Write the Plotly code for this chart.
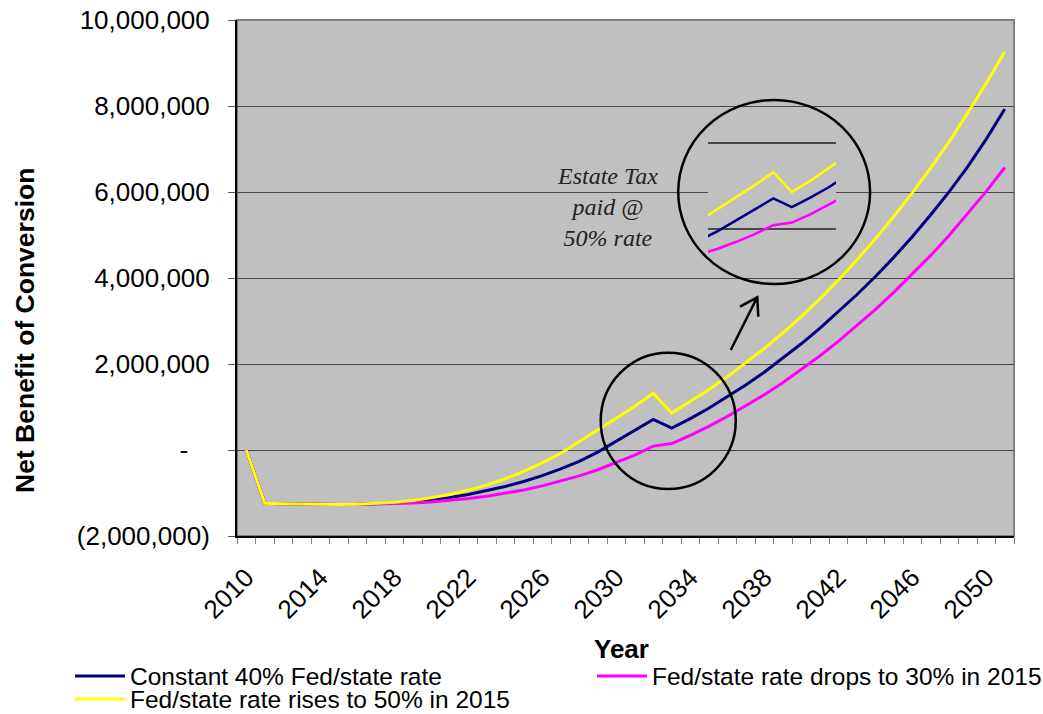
import numpy as np
import plotly.graph_objects as go

years = list(range(2010, 2052))

# values in millions of dollars
constant_40 = [0, -1.24, -1.25, -1.26, -1.27, -1.269, -1.264, -1.252, -1.231, -1.201,
               -1.159, -1.103, -1.035, -0.951, -0.849, -0.732, -0.595, -0.439, -0.262, -0.05,
               0.20, 0.45, 0.71, 0.51, 0.73, 0.97, 1.23, 1.51, 1.81, 2.13,
               2.47, 2.83, 3.21, 3.61, 4.03, 4.48, 4.96, 5.47, 6.01, 6.59,
               7.23, 7.93]
drops_30 = [0, -1.24, -1.25, -1.26, -1.27, -1.27, -1.267, -1.261, -1.250, -1.232,
            -1.208, -1.174, -1.130, -1.076, -1.009, -0.929, -0.835, -0.726, -0.601, -0.459,
            -0.297, -0.118, 0.09, 0.15, 0.34, 0.55, 0.78, 1.025, 1.285, 1.565,
            1.865, 2.185, 2.525, 2.885, 3.265, 3.665, 4.085, 4.525, 4.995, 5.495,
            6.015, 6.57]
rises_50 = [0, -1.24, -1.25, -1.26, -1.27, -1.269, -1.261, -1.245, -1.215, -1.172,
            -1.112, -1.034, -0.935, -0.813, -0.668, -0.498, -0.30, -0.075, 0.19, 0.46,
            0.74, 1.02, 1.32, 0.86, 1.12, 1.40, 1.70, 2.02, 2.36, 2.72,
            3.10, 3.51, 3.95, 4.42, 4.91, 5.43, 5.98, 6.56, 7.17, 7.84,
            8.53, 9.26]

series_names = ["Constant 40% Fed/state rate",
                "Fed/state rate drops to 30% in 2015",
                "Fed/state rate rises to 50% in 2015"]
series_values = [constant_40, drops_30, rises_50]
series_colors = ["#000080", "#FF00FF", "#FFFF00"]
series_legend = ["legend", "legend3", "legend2"]

y_tickvals = [-2e6, 0, 2e6, 4e6, 6e6, 8e6, 10e6]
y_ticktext = ["(2,000,000)", "-\u00a0\u00a0\u00a0", "2,000,000", "4,000,000",
              "6,000,000", "8,000,000", "10,000,000"]
x_tickvals = list(range(2010, 2051, 4))

FONT = "Liberation Sans, Arial, sans-serif"
W, H = 1043, 714
L, R, T, B = 237, 29, 20, 178
PW, PH = W - L - R, H - T - B


def px_x(px):
    return (px - L) / PW


def px_y(py):
    return (H - B - py) / PH


fig = go.Figure()
for name, vals, col, lg in zip(series_names, series_values, series_colors, series_legend):
    fig.add_trace(go.Scatter(x=years, y=np.array(vals) * 1e6, mode="lines", name=name,
                             line=dict(color=col, width=3), legend=lg,
                             xaxis="x", yaxis="y"))
# inset (magnified copy of circled region)
for name, vals, col in zip(series_names, series_values, series_colors):
    fig.add_trace(go.Scatter(x=years, y=np.array(vals) * 1e6, mode="lines", name=name,
                             line=dict(color=col, width=2.5), showlegend=False,
                             xaxis="x2", yaxis="y2"))

legend_common = dict(orientation="h", xanchor="left", yanchor="middle", itemwidth=50,
                     font=dict(size=24.5), bgcolor="rgba(0,0,0,0)")

fig.update_layout(
    width=W, height=H,
    margin=dict(l=L, r=R, t=T, b=B, autoexpand=False),
    paper_bgcolor="white", plot_bgcolor="#C0C0C0",
    font=dict(family=FONT, color="black", size=26),
    xaxis=dict(range=[2009.5, 2051.5], tickvals=x_tickvals,
               ticktext=[str(v) for v in x_tickvals], tickangle=-45,
               ticks="", showgrid=False, zeroline=False,
               showline=True, linecolor="black", linewidth=2,
               ticklabelstandoff=14,
               tickfont=dict(size=26),
               minor=dict(ticks="outside", tick0=2009.5, dtick=1, ticklen=6,
                          tickcolor="#808080", showgrid=False)),
    yaxis=dict(range=[-2e6, 10e6], tickvals=y_tickvals, ticktext=y_ticktext,
               showgrid=True, gridcolor="#474747", gridwidth=1, zeroline=False,
               ticks="outside", ticklen=7, tickcolor="#555555",
               showline=True, linecolor="black", linewidth=2,
               ticklabelstandoff=13, tickfont=dict(size=26)),
    xaxis2=dict(domain=[px_x(708), px_x(836)], range=[2028.47, 2035.39], anchor="y2",
                showgrid=False, zeroline=False, showline=False, ticks="",
                showticklabels=False),
    yaxis2=dict(domain=[px_y(262), px_y(118)], range=[-0.767e6, 2.581e6], anchor="x2",
                tickvals=[0, 2e6], showgrid=True, gridcolor="#474747", gridwidth=1.5,
                zeroline=False, showline=False, ticks="", showticklabels=False),
    legend=dict(x=px_x(70), y=px_y(676), **legend_common),
    legend3=dict(x=px_x(592), y=px_y(676), **legend_common),
    legend2=dict(x=px_x(70), y=px_y(699), **legend_common),
    showlegend=True,
)

# plot border (top/right grey)
fig.add_shape(type="rect", xref="paper", yref="paper", x0=0, x1=1, y0=0, y1=1,
              line=dict(color="#808080", width=2), layer="below")
# circles
fig.add_shape(type="circle", xref="x", yref="y", x0=2029.16, x1=2036.46,
              y0=-0.907e6, y1=2.263e6, line=dict(color="black", width=2.5), layer="above")
fig.add_shape(type="circle", xref="x", yref="y", x0=2033.35, x1=2043.72,
              y0=3.86e6, y1=8.14e6, line=dict(color="black", width=2.5), layer="above")
# arrow
fig.add_shape(type="path", xref="x", yref="y",
              path="M2036.69,3333000 L2037.62,3551000 L2037.68,3100000 "
                   "M2036.19,2326000 L2037.62,3551000",
              line=dict(color="black", width=2.5), layer="above")

fig.add_annotation(x=2029.55, y=5.66e6, xref="x", yref="y", showarrow=False,
                   text="<i>Estate Tax<br>paid @<br>50% rate</i>", align="center",
                   xanchor="center", yanchor="middle",
                   font=dict(family="Liberation Serif, Times New Roman, serif", size=24,
                             color="#222222"))
fig.add_annotation(x=px_x(25), y=px_y(331), xref="paper", yref="paper", showarrow=False,
                   text="<b>Net Benefit of Conversion</b>", textangle=-90,
                   xanchor="center", yanchor="middle", font=dict(size=26.5))
fig.add_annotation(x=px_x(621), y=px_y(649), xref="paper", yref="paper", showarrow=False,
                   text="<b>Year</b>", xanchor="center", yanchor="middle",
                   font=dict(size=26))

fig.write_html("out.html")
